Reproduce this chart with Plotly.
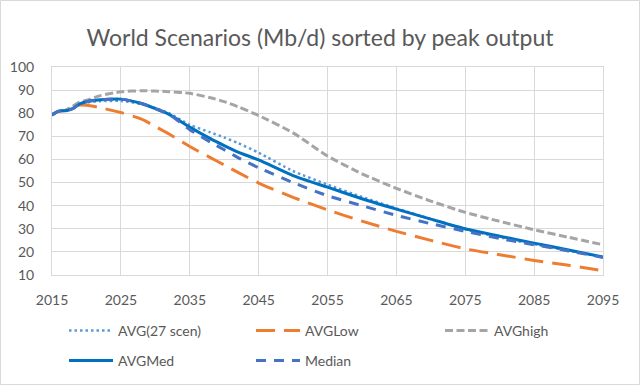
import plotly.graph_objects as go

years = [2015, 2016, 2017, 2018, 2019, 2020, 2022, 2025, 2028, 2030, 2032, 2035,
         2038, 2040, 2042, 2045, 2050, 2055, 2060, 2065, 2070, 2075, 2080, 2085, 2090, 2095]

avg27 = [79.3, 80.9, 81.1, 82.0, 83.8, 84.6, 85.2, 85.3, 84.0, 82.3, 80.0, 75.0,
         71.7, 69.5, 67.1, 62.9, 55.0, 49.1, 43.8, 38.8, 34.3, 29.8, 26.3, 23.3, 20.5, 17.8]
avg_low = [79.3, 80.9, 81.3, 82.8, 83.5, 83.4, 82.4, 80.3, 77.4, 74.3, 71.0, 65.6,
           60.8, 57.6, 54.4, 49.8, 43.6, 38.2, 33.3, 28.9, 25.0, 21.3, 18.8, 16.3, 14.2, 11.8]
avg_high = [79.3, 80.9, 81.3, 83.0, 84.8, 85.6, 87.6, 89.3, 89.7, 89.6, 89.3, 88.6,
            86.7, 85.0, 82.8, 79.0, 71.5, 61.5, 53.8, 47.5, 42.0, 37.1, 33.2, 29.6, 26.3, 23.1]
avg_med = [79.3, 80.9, 81.1, 82.0, 84.0, 85.0, 85.8, 86.1, 84.2, 82.0, 79.5, 74.0,
           69.0, 66.0, 63.2, 59.8, 53.0, 48.0, 43.0, 38.5, 34.2, 30.0, 26.8, 23.8, 20.8, 17.8]
median = [79.3, 80.9, 81.1, 82.0, 84.0, 85.0, 85.8, 86.1, 84.2, 82.0, 79.5, 72.9,
          67.5, 64.2, 60.8, 56.4, 50.0, 44.3, 40.0, 35.8, 32.2, 28.9, 25.8, 23.1, 20.4, 17.6]

x_ticks = [2015, 2025, 2035, 2045, 2055, 2065, 2075, 2085, 2095]
y_ticks = [10, 20, 30, 40, 50, 60, 70, 80, 90, 100]

FONT = "Lato"
TXT = "#595959"
GRID = "#D9D9D9"

series = [
    ("AVG(27 scen)", avg27, "#5B9BD5", 2.5, "2.5px,3px", "legend"),
    ("AVGLow", avg_low, "#ED7D31", 3, "19px,9px", "legend"),
    ("AVGhigh", avg_high, "#A5A5A5", 3, "8px,3.5px", "legend3"),
    ("AVGMed", avg_med, "#0070C0", 3, "solid", "legend2"),
    ("Median", median, "#4472C4", 3, "10px,8px", "legend2"),
]

fig = go.Figure()
for name, vals, color, w, dash, lg in series:
    fig.add_trace(go.Scatter(
        x=years, y=vals, name=name, mode="lines",
        line=dict(color=color, width=w, dash=dash, shape="spline", smoothing=0.6),
        legend=lg,
    ))

legend_common = dict(
    orientation="h", xref="container", yref="container",
    xanchor="left", yanchor="middle",
    font=dict(family=FONT, size=14, color=TXT),
    entrywidth=128, entrywidthmode="pixels", itemwidth=44,
    bgcolor="rgba(0,0,0,0)", traceorder="normal",
)

fig.update_layout(
    width=640, height=385,
    paper_bgcolor="white", plot_bgcolor="white",
    margin=dict(l=52, r=37, t=67, b=110),
    title=dict(text="World Scenarios (Mb/d) sorted by peak output",
               font=dict(family=FONT, size=23, color=TXT),
               x=0.5, xanchor="center", xref="container",
               y=1 - 38 / 385, yanchor="middle", yref="container"),
    showlegend=True,
    legend=dict(x=64 / 640, y=1 - 331 / 385, **legend_common),
    legend3=dict(x=440 / 640, y=1 - 331 / 385, **legend_common),
    legend2=dict(x=64 / 640, y=1 - 361 / 385, **legend_common),
    xaxis=dict(range=[2015, 2095], tickvals=x_ticks, ticktext=[str(t) for t in x_ticks],
               showgrid=True, gridcolor=GRID, gridwidth=1,
               showline=True, linecolor=GRID, linewidth=1, mirror=True,
               zeroline=False, ticks="", ticklabelstandoff=12, automargin=False,
               tickfont=dict(family=FONT, size=14, color=TXT)),
    yaxis=dict(range=[10, 100], tickvals=y_ticks, ticktext=[str(t) for t in y_ticks],
               showgrid=True, gridcolor=GRID, gridwidth=1,
               showline=True, linecolor=GRID, linewidth=1, mirror=True,
               zeroline=False, ticks="", ticklabelstandoff=14, automargin=False,
               tickfont=dict(family=FONT, size=14, color=TXT)),
    shapes=[dict(type="rect", xref="paper", yref="paper",
                 x0=(0.5 - 52) / 551, x1=(639.5 - 52) / 551,
                 y0=-(110 - 0.5) / 208, y1=(385 - 0.5 - 110) / 208,
                 line=dict(color="#D9D9D9", width=1), layer="below")],
)

fig.write_html("out.html",
               config={"displayModeBar": False},
               post_script="document.body.style.margin='0';document.body.style.overflow='hidden';")
